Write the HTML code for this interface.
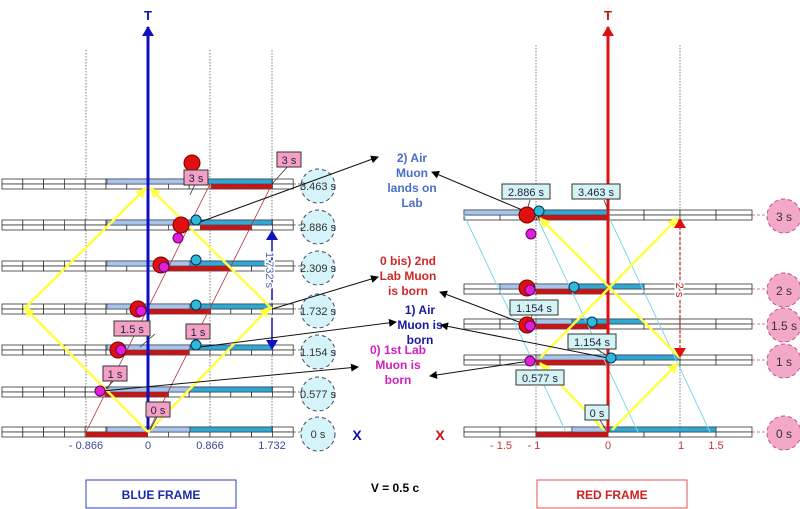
<!DOCTYPE html><html><head><style>body{margin:0;background:#fff}svg{display:block;font-family:"Liberation Sans",sans-serif}</style></head><body>
<svg id="s" width="800" height="509" viewBox="0 0 800 509">
<defs>
<marker id="ak" markerWidth="8" markerHeight="8" refX="7" refY="4" orient="auto" markerUnits="userSpaceOnUse"><path d="M0,0L8,4L0,8z" fill="#000"/></marker>
<marker id="ay" markerWidth="12" markerHeight="12" refX="10" refY="6" orient="auto" markerUnits="userSpaceOnUse"><path d="M0,1L11,6L0,11z" fill="#ffff44"/></marker>
<marker id="ab" markerWidth="10" markerHeight="12" refX="9" refY="6" orient="auto" markerUnits="userSpaceOnUse"><path d="M0,0L10,6L0,12z" fill="#1010c0"/></marker>
<marker id="ar" markerWidth="10" markerHeight="12" refX="9" refY="6" orient="auto" markerUnits="userSpaceOnUse"><path d="M0,0L10,6L0,12z" fill="#e01010"/></marker>
</defs>
<g id="g"></g>
<text x="148" y="20" fill="#1010b0" font-weight="bold" font-size="13" text-anchor="middle">T</text>
<text x="608" y="20" fill="#d01010" font-weight="bold" font-size="13" text-anchor="middle">T</text>
<text x="357" y="440" fill="#1010b0" font-weight="bold" font-size="14" text-anchor="middle">X</text>
<text x="440" y="440" fill="#d01010" font-weight="bold" font-size="14" text-anchor="middle">X</text>
<g font-size="11" fill="#3a4aa0" text-anchor="middle"><text x="86" y="449">- 0.866</text><text x="148" y="449">0</text><text x="210" y="449">0.866</text><text x="272" y="449">1.732</text></g>
<g font-size="11" fill="#d03030" text-anchor="middle"><text x="501" y="449">- 1.5</text><text x="534" y="449">- 1</text><text x="608" y="449">0</text><text x="681" y="449">1</text><text x="716" y="449">1.5</text></g>
<text x="395" y="492" font-size="12" font-weight="bold" text-anchor="middle">V = 0.5 c</text>
<rect x="86" y="480" width="150" height="28" fill="#fff" stroke="#3040c0"/>
<text x="161" y="499" font-size="12" font-weight="bold" fill="#1a2ab0" text-anchor="middle">BLUE FRAME</text>
<rect x="537" y="480" width="150" height="28" fill="#fff" stroke="#e05050"/>
<text x="612" y="499" font-size="12" font-weight="bold" fill="#d02020" text-anchor="middle">RED FRAME</text>
<g font-size="12" font-weight="bold" text-anchor="middle">
<text fill="#4a6ec8"><tspan x="412" y="162">2) Air</tspan><tspan x="412" y="177">Muon</tspan><tspan x="412" y="192">lands on</tspan><tspan x="412" y="207">Lab</tspan></text>
<text fill="#d02828"><tspan x="408" y="265">0 bis) 2nd</tspan><tspan x="408" y="280">Lab Muon</tspan><tspan x="408" y="295">is born</tspan></text>
<text fill="#1818a0"><tspan x="420" y="314">1) Air</tspan><tspan x="420" y="329">Muon is</tspan><tspan x="420" y="344">born</tspan></text>
<text fill="#d020c0"><tspan x="398" y="354">0) 1st Lab</tspan><tspan x="398" y="369">Muon is</tspan><tspan x="398" y="384">born</tspan></text>
</g>
</svg>
<script>
var g=document.getElementById('g'),h='';
function R(x,y,w,hh,f,s,extra){h+='<rect x="'+x+'" y="'+y+'" width="'+w+'" height="'+hh+'" fill="'+f+'" stroke="'+(s||'none')+'" '+(extra||'')+'/>';}
function L(x1,y1,x2,y2,s,w,extra){h+='<line x1="'+x1+'" y1="'+y1+'" x2="'+x2+'" y2="'+y2+'" stroke="'+s+'" stroke-width="'+(w||1)+'" '+(extra||'')+'/>';}
function C(x,y,r,f,s,extra){h+='<circle cx="'+x+'" cy="'+y+'" r="'+r+'" fill="'+f+'" stroke="'+(s||'#600')+'" '+(extra||'')+'/>';}
function T(x,y,t,f,sz,extra){h+='<text x="'+x+'" y="'+y+'" fill="'+f+'" font-size="'+sz+'" '+(extra||'')+'>'+t+'</text>';}
function box(x,y,t,f){var w=t.length*6+6;R(x-w/2,y-8,w,15,f,'#333');T(x,y+4,t,'#224','11','text-anchor="middle"');}
var LB='#a8c4e8',CY='#30a8d0',RD='#c01818';
[86,210,272].forEach(function(x){L(x,50,x,432,'#444',0.7,'stroke-dasharray="1.5,1.5"');});
[536,680].forEach(function(x){L(x,45,x,432,'#444',0.7,'stroke-dasharray="1.5,1.5"');});
var lrows=[[432,86,148,'0 s'],[392,105,168,'0.577 s'],[350,120,189,'1.154 s'],[309,148,211,'1.732 s'],[266,168,230,'2.309 s'],[225,200,252,'2.886 s'],[184,211,272,'3.463 s']];
lrows.forEach(function(r){var y=r[0]-5,c=20.8;
 for(var k=0;k<14;k++){R(2+k*c,y,c,5,'#fff','#333','stroke-width="0.8"');R(2+k*c,y+5,c,5,'#fff','#333','stroke-width="0.8"');}
 R(107,y,83,5,LB,'#335','stroke-width="0.6"');R(190,y,82,5,CY,'#335','stroke-width="0.6"');
 R(r[1],y+5,r[2]-r[1],5,RD);
 L(293,r[0],302,r[0],'#555',0.8,'stroke-dasharray="3,2"');
 C(318,r[0]+2,17,'#d4f4fa','#446','stroke-dasharray="4,3"');
 T(318,r[0]+6,r[3],'#333','11','text-anchor="middle"');});
var rrows=[[215,[[464,536,LB],[536,608,CY]],[536,608],'3 s'],[289,[[500,572,LB],[572,644,CY]],[536,608],'2 s'],[324,[[536,572,LB],[572,644,CY]],[536,608],'1.5 s'],[360,[[536,608,LB],[608,680,CY]],[536,608],'1 s'],[432,[[572,608,LB],[608,716,CY]],[536,608],'0 s']];
rrows.forEach(function(r){var y=r[0]-5,c=36;
 for(var k=0;k<8;k++){R(464+k*c,y,c,5,'#fff','#333','stroke-width="0.8"');R(464+k*c,y+5,c,5,'#fff','#333','stroke-width="0.8"');}
 r[1].forEach(function(s){R(s[0],y,s[1]-s[0],5,s[2],'#335','stroke-width="0.6"');});
 R(r[2][0],y+5,r[2][1]-r[2][0],5,RD);
 L(752,r[0],768,r[0],'#c55',0.8,'stroke-dasharray="3,2"');
 C(784,r[0]+1,17,'#f4a8c8','#c05080','stroke-dasharray="4,3"');
 T(784,r[0]+6,r[3],'#333','12','text-anchor="middle"');});
[[464,566],[536,638],[608,710]].forEach(function(p){L(p[0],215,p[1],432,'#7fd8e8',1);});
L(86,432,210,184,'#b03030',0.8);L(148,432,272,184,'#b03030',0.8);
L(148,432,148,27,'#1010c0',3,'marker-end="url(#ab)"');
L(608,432,608,27,'#e01010',3,'marker-end="url(#ar)"');
var Y='#ffff44';
[[148,432,270,307],[148,432,24,307],[24,309,146,188],[272,309,150,188],
 [604,430,540,363],[612,430,678,363],[540,358,678,218],[680,358,540,218]].forEach(function(p){L(p[0],p[1],p[2],p[3],Y,2.5,'marker-end="url(#ay)"');});
L(272,300,272,231,'#1010c0',1.5,'marker-end="url(#ab)"');L(272,318,272,349,'#1010c0',1.5,'marker-end="url(#ab)"');
h+='<text transform="translate(266,270) rotate(90)" fill="#5068b0" font-size="11" text-anchor="middle" stroke="#fff" stroke-width="3" paint-order="stroke">1.732 s</text>';
L(680,280,680,219,'#d02020',1.2,'stroke-dasharray="3,2" marker-end="url(#ar)"');L(680,300,680,357,'#d02020',1.2,'stroke-dasharray="3,2" marker-end="url(#ar)"');
h+='<text transform="translate(676,290) rotate(90)" fill="#c02020" font-size="11" text-anchor="middle" stroke="#fff" stroke-width="3" paint-order="stroke">2 s</text>';
[[200,222,378,157],[272,309,378,277],[200,347,396,322],[102,391,358,367]].forEach(function(p){L(p[0],p[1],p[2],p[3],'#111',1,'marker-end="url(#ak)"');});
[[527,212,432,172],[527,325,440,292],[608,358,441,325],[530,361,430,376]].forEach(function(p){L(p[0],p[1],p[2],p[3],'#111',1,'marker-end="url(#ak)"');});
L(289,165,272,184,'#333',0.8);L(196,182,190,195,'#333',0.8);L(155,334,140,347,'#333',0.8);L(198,336,194,345,'#333',0.8);L(115,379,106,389,'#333',0.8);L(158,415,150,430,'#333',0.8);
L(530,200,527,210,'#333',0.8);L(604,200,608,210,'#333',0.8);L(532,315,530,322,'#333',0.8);L(596,349,608,356,'#333',0.8);L(600,420,606,430,'#333',0.8);
C(192,163,8,'#e01010','#700');C(181,225,8,'#e01010','#700');C(196,220,5,'#30b8d8','#035');C(178,238,5,'#e020d8','#606');
C(161,265,8,'#e01010','#700');C(164,267,5,'#e020d8','#606');C(196,260,5,'#30b8d8','#035');
C(138,309,8,'#e01010','#700');C(141,311,5,'#e020d8','#606');C(196,305,5,'#30b8d8','#035');
C(118,350,8,'#e01010','#700');C(121,350,5,'#e020d8','#606');C(196,345,5,'#30b8d8','#035');
C(100,391,5,'#e020d8','#606');
C(527,215,8,'#e01010','#700');C(539,211,5,'#30b8d8','#035');C(531,234,5,'#e020d8','#606');
C(527,288,8,'#e01010','#700');C(530,290,5,'#e020d8','#606');C(574,287,5,'#30b8d8','#035');
C(527,325,8,'#e01010','#700');C(530,326,5,'#e020d8','#606');C(592,322,5,'#30b8d8','#035');
C(530,361,5,'#e020d8','#606');C(611,358,5,'#30b8d8','#035');
var P='#f4a0c4',Q='#d4f4f4';
box(289,160,'3 s',P);box(196,178,'3 s',P);box(132,329,'1.5 s',P);box(198,332,'1 s',P);box(115,374,'1 s',P);box(158,410,'0 s',P);
box(526,192,'2.886 s',Q);box(596,192,'3.463 s',Q);box(534,308,'1.154 s',Q);box(592,342,'1.154 s',Q);box(540,378,'0.577 s',Q);box(597,413,'0 s',Q);
g.innerHTML=h;
</script>
</body></html>
